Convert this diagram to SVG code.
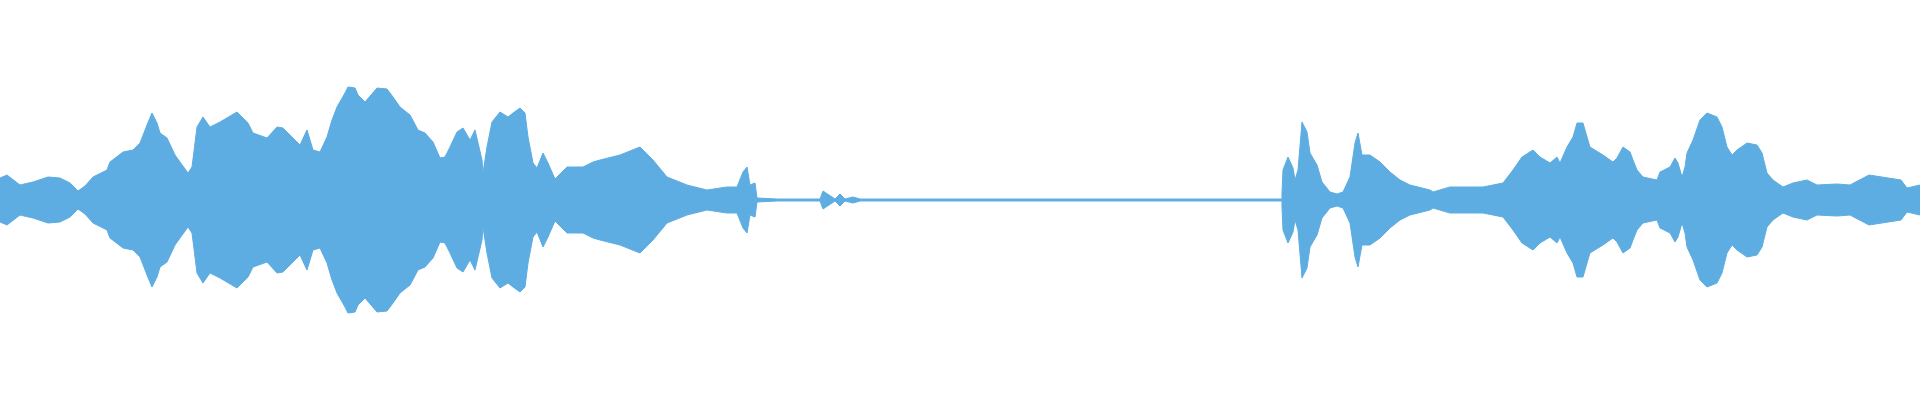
<svg xmlns="http://www.w3.org/2000/svg" width="1920" height="400" viewBox="0 0 1920 400">
<defs><style>.w{fill:#5dade2;stroke:#5dade2;stroke-width:1;stroke-linejoin:miter}</style>
<path id="h" class="w" d="M0,200 L0,178 L7,175 L20,185 L33,182 L48,177 L60,178 L70,183 L78,191 L85,186 L93,177 L107,170 L110,162 L123,152 L133,150 L140,143 L147,125 L152,113 L157,123 L160,133 L167,138 L175,155 L180,162 L188,173 L192,167 L197,127 L203,117 L210,127 L220,122 L237,112 L248,123 L253,133 L267,138 L277,127 L283,128 L290,135 L300,145 L307,130 L313,150 L320,152 L327,137 L332,120 L337,107 L345,93 L348,87 L355,88 L358,95 L365,102 L377,88 L387,89 L393,97 L400,107 L410,115 L418,130 L425,133 L433,142 L440,158 L445,157 L450,147 L457,132 L463,128 L470,140 L475,130 L482,160 L483,173 L487,147 L492,122 L500,112 L508,117 L513,113 L520,108 L525,113 L528,137 L533,163 L537,168 L543,153 L548,163 L555,179 L567,167 L583,167 L593,162 L600,160 L620,155 L640,147 L653,160 L667,177 L687,185 L707,190 L727,187 L737,187 L743,172 L747,167 L750,185 L755,183 L757,198 L777,199 L820,199 L823,191 L835,199 L840,194 L845,199 L853,197 L860,199 L1282,199 L1282,193 L1283,170 L1288,157 L1293,168 L1295,180 L1298,170 L1302,122 L1307,132 L1310,153 L1317,165 L1322,182 L1330,192 L1337,194 L1343,192 L1350,177 L1355,143 L1358,133 L1362,155 L1370,155 L1380,162 L1390,172 L1400,180 L1410,185 L1430,190 L1433,192 L1450,187 L1483,187 L1503,183 L1513,170 L1522,157 L1533,150 L1540,157 L1550,163 L1557,157 L1560,163 L1567,147 L1573,137 L1577,123 L1583,123 L1587,137 L1590,147 L1603,155 L1610,160 L1613,162 L1617,158 L1623,147 L1630,152 L1633,160 L1637,170 L1643,177 L1657,180 L1660,172 L1670,167 L1675,158 L1678,163 L1682,177 L1685,167 L1687,153 L1693,140 L1700,120 L1707,113 L1717,117 L1722,127 L1727,147 L1732,155 L1737,150 L1747,143 L1757,145 L1762,153 L1767,173 L1773,180 L1783,187 L1793,183 L1807,180 L1817,185 L1837,184 L1850,185 L1869,175 L1901,180 L1907,188 L1920,185 L1920,200 Z"/></defs>
<g id="waveform">
<use href="#h"/>
<use href="#h" transform="translate(0,400) scale(1,-1)"/>
</g>
</svg>
